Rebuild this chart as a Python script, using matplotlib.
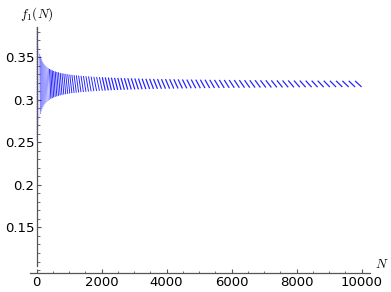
import numpy as np
import matplotlib
matplotlib.use("Agg")
import matplotlib.pyplot as plt
from matplotlib.ticker import MultipleLocator

plt.rcParams['mathtext.fontset'] = 'cm'

# stripe k runs from N = k^2 to N = (k+1)^2 (value falls from top to bottom)
stripe_start = [1, 4, 9, 16, 25, 36, 49, 64, 81, 100, 121, 144, 169, 196, 225, 256, 289, 324, 361,
                400, 441, 484, 529, 576, 625, 676, 729, 784, 841, 900, 961, 1024, 1089, 1156, 1225,
                1296, 1369, 1444, 1521, 1600, 1681, 1764, 1849, 1936, 2025, 2116, 2209, 2304, 2401,
                2500, 2601, 2704, 2809, 2916, 3025, 3136, 3249, 3364, 3481, 3600, 3721, 3844, 3969,
                4096, 4225, 4356, 4489, 4624, 4761, 4900, 5041, 5184, 5329, 5476, 5625, 5776, 5929,
                6084, 6241, 6400, 6561, 6724, 6889, 7056, 7225, 7396, 7569, 7744, 7921, 8100, 8281,
                8464, 8649, 8836, 9025, 9216, 9409, 9604, 9801]
stripe_end = stripe_start[1:] + [10000]

# half height of each stripe around the limit value
f_limit = 0.3185
stripe_half = [0.066, 0.066, 0.066, 0.066, 0.060, 0.054, 0.048, 0.043, 0.039, 0.035,
               0.0318, 0.0292, 0.0269, 0.0250, 0.0233, 0.0219, 0.0206, 0.0194, 0.0184, 0.0175,
               0.0167, 0.0159, 0.0152, 0.0146, 0.0140, 0.0135, 0.0130, 0.0125, 0.0121, 0.0117,
               0.0113, 0.0109, 0.0106, 0.0103, 0.0100, 0.0097, 0.0095, 0.0092, 0.0090, 0.0088,
               0.0085, 0.0083, 0.0081, 0.0080, 0.0078, 0.0076, 0.0074, 0.0073, 0.0071, 0.0070,
               0.0069, 0.0067, 0.0066, 0.0065, 0.0064, 0.0063, 0.0061, 0.0060, 0.0059, 0.0058,
               0.0057, 0.0056, 0.0056, 0.0055, 0.0054, 0.0053, 0.0052, 0.0051, 0.0051, 0.0050,
               0.0049, 0.0049, 0.0048, 0.0047, 0.0047, 0.0046, 0.0045, 0.0045, 0.0044, 0.0044,
               0.0043, 0.0043, 0.0042, 0.0042, 0.0041, 0.0041, 0.0040, 0.0040, 0.0039, 0.0039,
               0.0038, 0.0038, 0.0038, 0.0037, 0.0037, 0.0036, 0.0036, 0.0036, 0.0035]

x_ticks = [0, 2000, 4000, 6000, 8000, 10000]
y_ticks = [0.15, 0.2, 0.25, 0.3, 0.35]
y_labels = ["0.15", "0.2", "0.25", "0.3", "0.35"]

fig = plt.figure(figsize=(3.91, 2.92), dpi=100)
ax = fig.add_axes([30 / 391, 19 / 292, 340 / 391, 246 / 292])

for k, (s, e, h) in enumerate(zip(stripe_start, stripe_end, stripe_half), start=1):
    # few points per stripe early on, so those look faint and dotty
    if k < 10:
        ax.plot([s, e], [f_limit + h, f_limit - h], color="#7777ff", lw=0.4, alpha=0.5,
                ls=(0, (1, 2)))
    elif k < 20:
        ax.plot([s, e], [f_limit + h, f_limit - h], color="blue", lw=0.5, alpha=0.55)
    elif k < 45:
        ax.plot([s, e], [f_limit + h, f_limit - h], color="blue", lw=0.7, alpha=0.85,
                solid_capstyle="butt")
    else:
        ax.plot([s, e], [f_limit + h, f_limit - h], color="blue", lw=0.9, alpha=0.85,
                solid_capstyle="butt")

ax.set_xlim(-200, 10260)
ax.set_ylim(0.0965, 0.3853)

axis_col = "#555555"
ax.spines['left'].set_position(('data', 0))
ax.spines['left'].set_bounds(0.1047, 0.3853)
ax.spines['right'].set_visible(False)
ax.spines['top'].set_visible(False)
for sp in ['left', 'bottom']:
    ax.spines[sp].set_color(axis_col)
    ax.spines[sp].set_linewidth(0.9)
    ax.spines[sp].set_zorder(3)

ax.set_xticks(x_ticks)
ax.set_xticklabels([str(t) for t in x_ticks])
ax.set_yticks(y_ticks)
ax.set_yticklabels(y_labels)
ax.xaxis.set_minor_locator(MultipleLocator(500))
ax.yaxis.set_minor_locator(MultipleLocator(0.01))
ax.tick_params(which='major', direction='in', length=3, width=0.8, color=axis_col,
               labelsize=9.5, labelcolor='black')
ax.tick_params(which='minor', direction='in', length=1.8, width=0.6, color=axis_col)
ax.tick_params(axis='x', pad=2.5)
ax.tick_params(axis='y', pad=1.5)

fig.text(37 / 391, 1 - 14 / 292, r"$f_1(N)$", ha="center", va="center", fontsize=9.5)
fig.text(382 / 391, 1 - 264 / 292, r"$N$", ha="center", va="center", fontsize=9.5)

fig.savefig("out.png", dpi=100)
